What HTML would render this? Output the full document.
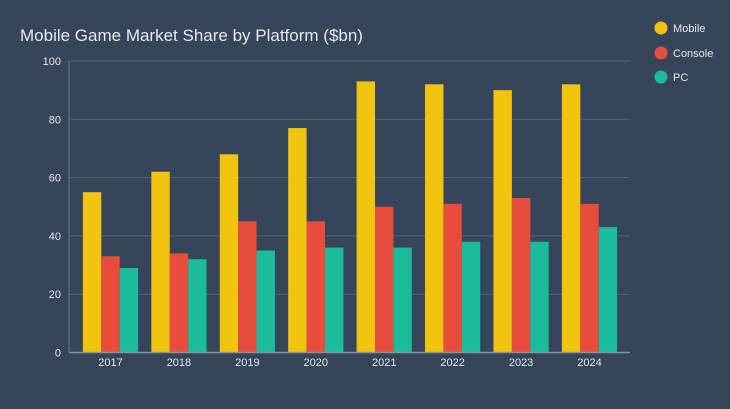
<!DOCTYPE html>
<html><head><meta charset="utf-8"><style>
html,body{margin:0;padding:0;background:#364559;}
svg{display:block;font-family:"Liberation Sans",sans-serif;}
</style></head><body>
<svg id="c" width="730" height="409" viewBox="0 0 730 409">
<rect width="730" height="409" fill="#364559"/>
<text x="20" y="41" font-size="17" fill="#e6e9ee">Mobile Game Market Share by Platform ($bn)</text>
<g id="grid"></g><g id="bars"></g><g id="axes"></g>
<g>
<g><circle cx="661" cy="28" r="6.5" fill="#f1c40f"/><text x="673" y="32" font-size="11" fill="#e6e9ee">Mobile</text></g>
<g><circle cx="661" cy="53" r="6.5" fill="#e74c3c"/><text x="673" y="57" font-size="11" fill="#e6e9ee">Console</text></g>
<g><circle cx="661" cy="77" r="6.5" fill="#1abc9c"/><text x="673" y="81" font-size="11" fill="#e6e9ee">PC</text></g>
</g>
</svg>
<script>
const categories=["2017","2018","2019","2020","2021","2022","2023","2024"];
const mobile=[55,62,68,77,93,92,90,92];
const consoleVals=[33,34,45,45,50,51,53,51];
const pc=[29,32,35,36,36,38,38,43];
const yTicks=[0,20,40,60,80,100];
const NS="http://www.w3.org/2000/svg";
const y0=352.5,y100=61,xl=69,xr=630;
function y(v){return y0-(v/100)*(y0-y100);}
function xc(i){return 110.5+i*68.43;}
const bw=18.4;
function mk(t,a,p){const e=document.createElementNS(NS,t);for(const k in a)e.setAttribute(k,a[k]);p.appendChild(e);return e;}
const grid=document.getElementById('grid'),bars=document.getElementById('bars'),axes=document.getElementById('axes');
yTicks.forEach(t=>{
  if(t>0){const l=mk('line',{x1:xl,x2:xr,y1:y(t),y2:y(t),stroke:'#56657a','stroke-width':1},grid);
  
  }
  const tx=mk('text',{x:61,y:y(t)+4,'font-size':11,fill:'#e6e9ee','text-anchor':'end'},axes);
  tx.textContent=t;
  
  
});
const yl=mk('line',{x1:xl,x2:xl,y1:y100,y2:y0,stroke:'#6b7a8c','stroke-width':1},axes);


const xa=mk('line',{x1:xl,x2:xr,y1:y0,y2:y0,stroke:'#8593a3','stroke-width':1.5},axes);


const series=[[mobile,'#f1c40f','mobile'],[consoleVals,'#e74c3c','console'],[pc,'#1abc9c','pc']];
categories.forEach((c,i)=>{
  series.forEach((s,j)=>{
    const v=s[0][i];
    const r=mk('rect',{x:xc(i)+(j-1.5)*bw,y:y(v),width:bw,height:y0-y(v),fill:s[1]},bars);
    
    
  });
  const t=mk('text',{x:xc(i),y:366,'font-size':11,fill:'#e6e9ee','text-anchor':'middle'},axes);
  t.textContent=c;
  
  
});
</script>
</body></html>
